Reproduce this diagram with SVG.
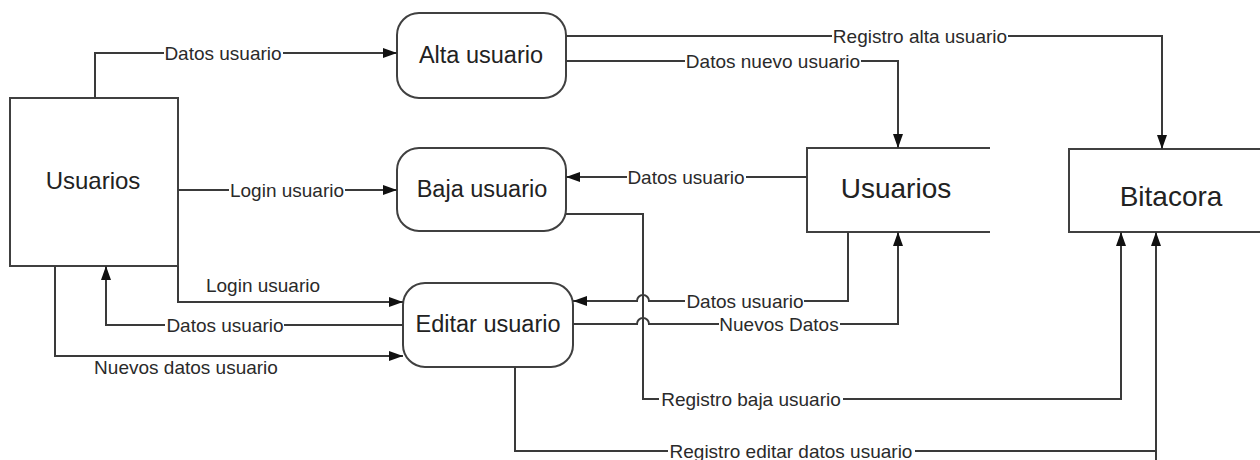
<svg xmlns="http://www.w3.org/2000/svg" width="1260" height="460" viewBox="0 0 1260 460">
  <style>
    .box { fill: #fff; stroke: #404040; stroke-width: 2; }
    .store { fill: none; stroke: #404040; stroke-width: 2; }
    .node-text { font-family: "Liberation Sans", Arial, sans-serif; fill: #222; text-anchor: middle; }
    .flow { fill: none; stroke: #3a3a3a; stroke-width: 2; }
    .arrow { fill: none; stroke: #3a3a3a; stroke-width: 2; marker-end: url(#head); }
    .lbg { fill: #fff; }
    .label { font-family: "Liberation Sans", Arial, sans-serif; font-size: 19px; fill: #2a2a2a; text-anchor: middle; }
  </style>
  <defs>
    <marker id="head" markerUnits="userSpaceOnUse" markerWidth="15" markerHeight="11" refX="14" refY="5" orient="auto">
      <path d="M0,0 L14,5 L0,10 z" fill="#111"/>
    </marker>
  </defs>

  <rect width="1260" height="460" fill="#fff"/>

  <!-- external entity -->
  <g id="usuarios-entity">
    <rect class="box" x="10" y="98" width="168" height="168"/>
    <text class="node-text" x="93" y="189" font-size="24">Usuarios</text>
  </g>

  <!-- processes -->
  <g id="alta-usuario">
    <rect class="box" x="397" y="13" width="169" height="85" rx="22"/>
    <text class="node-text" x="481" y="63" font-size="23.5">Alta usuario</text>
  </g>
  <g id="baja-usuario">
    <rect class="box" x="397" y="148" width="169" height="83" rx="22"/>
    <text class="node-text" x="482" y="197" font-size="23.5">Baja usuario</text>
  </g>
  <g id="editar-usuario">
    <rect class="box" x="403" y="283" width="170" height="84" rx="22"/>
    <text class="node-text" x="488" y="332" font-size="23.5">Editar usuario</text>
  </g>

  <!-- data stores (open on the right) -->
  <g id="usuarios-store">
    <path class="store" d="M990 148 H807 V232 H990"/>
    <text class="node-text" x="896" y="198" font-size="28">Usuarios</text>
  </g>
  <g id="bitacora-store">
    <path class="store" d="M1260 149 H1069 V232 H1260"/>
    <text class="node-text" x="1171" y="206" font-size="28">Bitacora</text>
  </g>

  <!-- data flows -->
  <g id="connectors">
    <path class="arrow" d="M95 98 V53 H397"/>
    <path class="arrow" d="M178 190 H397"/>
    <path class="arrow" d="M566 36 H1162 V149"/>
    <path class="arrow" d="M566 61 H898 V148"/>
    <path class="arrow" d="M807 177 H566"/>
    <path class="arrow" d="M566 214 H643 V399 H1121 V232"/>
    <path class="flow" d="M515 367 V451 H1156"/>
    <path class="arrow" d="M1156 460 V232"/>
    <path class="arrow" d="M178 266 V302 H403"/>
    <path class="arrow" d="M403 325 H106 V266"/>
    <path class="arrow" d="M55 266 V356 H403"/>
    <path class="arrow" d="M848 232 V301 H649 A6 6 0 0 0 637 301 H573"/>
    <path class="arrow" d="M573 324 H637 A6 6 0 0 1 649 324 H898 V232"/>

    <!-- label backgrounds break the flow lines -->
    <rect class="lbg" x="164" y="45" width="119" height="16"/>
    <rect class="lbg" x="229" y="182" width="116" height="16"/>
    <rect class="lbg" x="832" y="28" width="176" height="16"/>
    <rect class="lbg" x="685" y="53" width="176" height="16"/>
    <rect class="lbg" x="627" y="169" width="119" height="16"/>
    <rect class="lbg" x="659" y="391" width="184" height="16"/>
    <rect class="lbg" x="668" y="443" width="247" height="16"/>
    <rect class="lbg" x="165" y="317" width="119" height="16"/>
    <rect class="lbg" x="685" y="293" width="119" height="16"/>
    <rect class="lbg" x="719" y="316" width="121" height="16"/>

    <text class="label" x="223" y="60">Datos usuario</text>
    <text class="label" x="287" y="197">Login usuario</text>
    <text class="label" x="920" y="43">Registro alta usuario</text>
    <text class="label" x="773" y="68">Datos nuevo usuario</text>
    <text class="label" x="686" y="184">Datos usuario</text>
    <text class="label" x="751" y="406">Registro baja usuario</text>
    <text class="label" x="791" y="458">Registro editar datos usuario</text>
    <text class="label" x="263" y="292">Login usuario</text>
    <text class="label" x="225" y="332">Datos usuario</text>
    <text class="label" x="186" y="374">Nuevos datos usuario</text>
    <text class="label" x="745" y="308">Datos usuario</text>
    <text class="label" x="779" y="331">Nuevos Datos</text>
  </g>
</svg>
